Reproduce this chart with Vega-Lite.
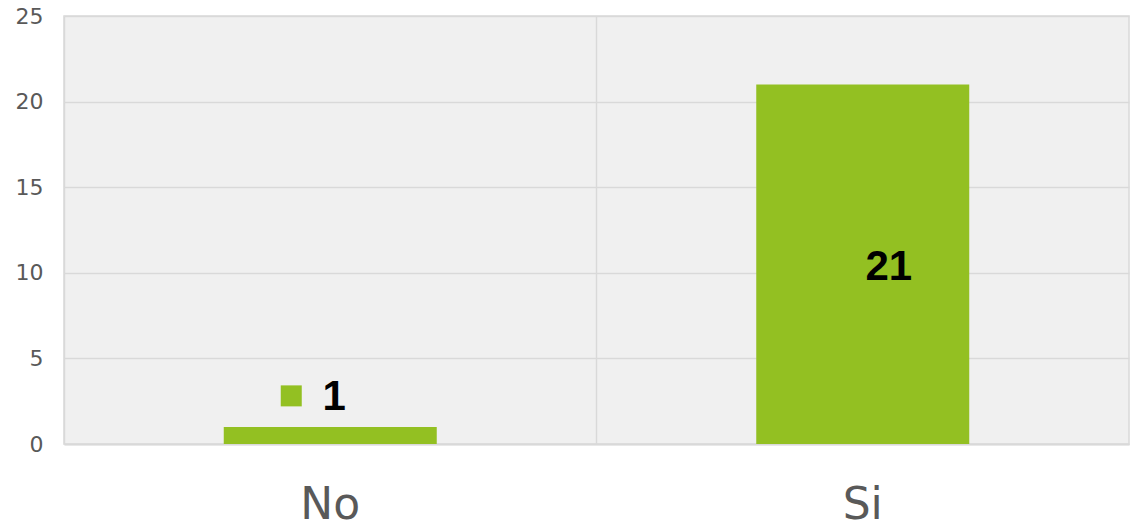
{
  "$schema": "https://vega.github.io/schema/vega-lite/v6.json",
  "autosize": "none",
  "width": 1065,
  "height": 428,
  "padding": {"left": 64, "top": 16, "right": 10, "bottom": 84},
  "background": "white",
  "config": {
    "view": {"fill": "#f0f0f0", "stroke": "#d9d9d9", "strokeWidth": 1.5},
    "font": "DejaVu Sans"
  },
  "data": {"values": [{"respuesta": "No", "valor": 1}, {"respuesta": "Si", "valor": 21}]},
  "encoding": {
    "x": {
      "field": "respuesta", "type": "nominal", "sort": null,
      "scale": {"paddingInner": 0, "paddingOuter": 0},
      "axis": {
        "title": null, "labelAngle": 0, "ticks": false,
        "domain": true, "domainColor": "#d9d9d9", "domainWidth": 2,
        "grid": true, "gridColor": "#d9d9d9", "gridWidth": 1.5, "bandPosition": 0,
        "labelFontSize": 44, "labelColor": "#595959", "labelPadding": 61, "labelBaseline": "middle"
      }
    },
    "y": {
      "field": "valor", "type": "quantitative",
      "scale": {"domain": [0, 25], "nice": false},
      "axis": {
        "title": null, "values": [0, 5, 10, 15, 20, 25], "ticks": false, "domain": false,
        "grid": true, "gridColor": "#d9d9d9", "gridWidth": 1.5,
        "labelFontSize": 22, "labelColor": "#595959", "labelPadding": 21
      }
    }
  },
  "layer": [
    {"mark": {"type": "bar", "color": "#93c022", "width": {"band": 0.4}}},
    {
      "transform": [{"filter": "datum.valor < 5"}],
      "mark": {"type": "point", "shape": "square", "filled": true, "opacity": 1, "color": "#93c022", "size": 441, "xOffset": -39, "yOffset": -31}
    },
    {
      "transform": [{"filter": "datum.valor < 5"}],
      "mark": {"type": "text", "font": "Liberation Sans", "fontWeight": "bold", "fontSize": 42, "color": "black", "dx": 4, "dy": -30, "baseline": "middle"},
      "encoding": {"text": {"field": "valor"}}
    },
    {
      "transform": [{"filter": "datum.valor >= 5"}],
      "mark": {"type": "text", "font": "Liberation Sans", "fontWeight": "bold", "fontSize": 42, "color": "black", "dx": 26, "dy": 183, "baseline": "middle"},
      "encoding": {"text": {"field": "valor"}}
    }
  ]
}
